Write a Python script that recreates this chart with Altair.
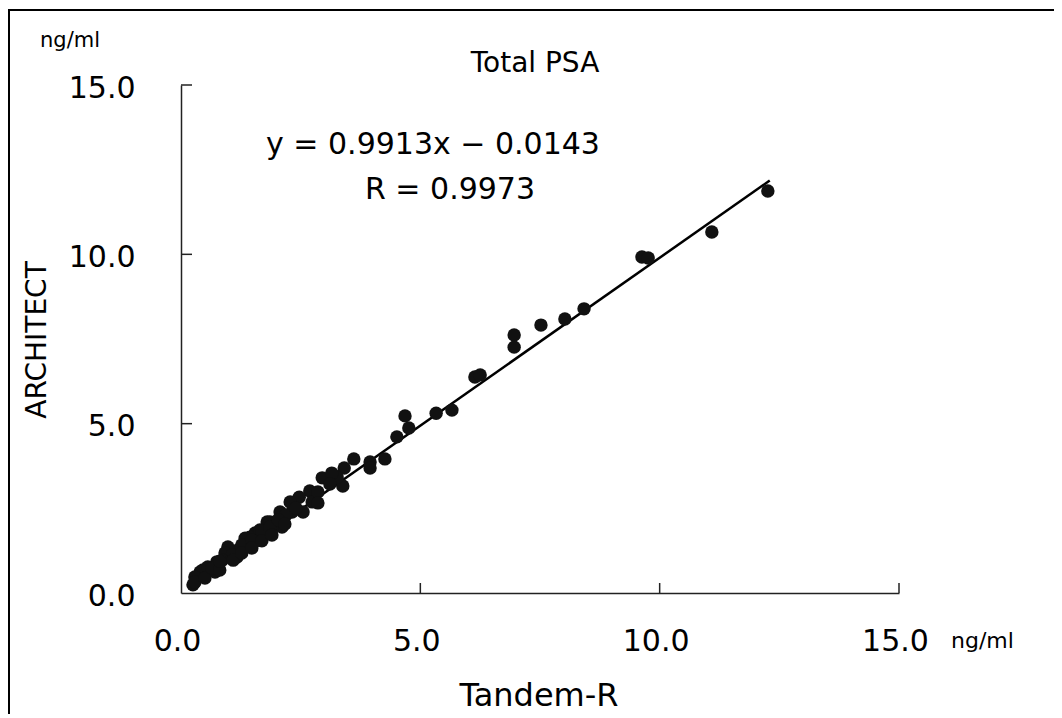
import altair as alt
import pandas as pd

# Tandem-R (x) vs ARCHITECT (y), ng/ml
tandem = [12.26, 11.09, 9.63, 9.76, 8.42, 8.02, 7.52, 6.96, 6.96, 6.14, 6.25, 5.66, 5.33,
          4.68, 4.76, 4.51, 4.26, 3.95, 3.95, 3.61, 3.41, 3.38, 3.18, 2.95, 3.26, 3.15,
          2.69, 2.74, 2.47, 2.55, 2.32, 2.28, 2.07, 2.11, 1.80, 1.71, 1.55, 1.44, 1.34,
          1.19, 1.17, 0.98, 0.92, 0.75, 0.71, 0.46, 0.40, 0.29, 0.25, 0.29, 1.38, 1.61,
          1.90, 1.07, 0.56, 1.34, 0.86, 1.65, 1.86, 2.19,
          0.50, 0.65, 0.81, 0.81, 1.09, 1.27, 1.27, 1.48, 1.48, 1.69, 1.69, 1.86, 1.90,
          2.03, 2.17, 2.40, 2.86, 2.86, 3.11]
architect = [11.87, 10.66, 9.92, 9.89, 8.39, 8.09, 7.91, 7.62, 7.26, 6.38, 6.44, 5.40, 5.31,
             5.23, 4.87, 4.61, 3.96, 3.87, 3.69, 3.96, 3.69, 3.16, 3.48, 3.40, 3.42, 3.54,
             3.01, 2.69, 2.83, 2.39, 2.39, 2.69, 2.39, 1.95, 2.10, 1.80, 1.77, 1.65, 1.62,
             1.27, 1.06, 1.36, 1.18, 0.92, 0.62, 0.68, 0.62, 0.47, 0.24, 0.32, 1.42, 1.56,
             1.92, 1.12, 0.77, 1.36, 0.97, 1.86, 2.10, 2.30,
             0.44, 0.74, 0.68, 0.94, 0.97, 1.42, 1.18, 1.56, 1.33, 1.83, 1.54, 1.95, 1.71,
             2.16, 2.04, 2.51, 2.98, 2.66, 3.22]

# regression line endpoints (y = 0.9913x - 0.0143)
fit_x = [0.25, 12.30]
fit_y = [0.233, 12.179]

tick_values = [0, 5, 10, 15]
inner_ticks = [5, 10, 15]

FONT = "DejaVu Sans"

pts = pd.DataFrame({"x": tandem, "y": architect})
fit = pd.DataFrame({"x": fit_x, "y": fit_y})
ticks = pd.DataFrame({"v": inner_ticks})
one = pd.DataFrame({"a": [0]})

xs = alt.Scale(domain=[0, 15], nice=False, zero=False)
ys = alt.Scale(domain=[0, 15], nice=False, zero=False)

xaxis = alt.Axis(values=tick_values, format=".1f", labelFontSize=30, labelPadding=33,
                 labelOffset=-4, labelFlush=False, ticks=False, grid=False, title=None,
                 domainColor="#222", domainWidth=1.5, labelColor="black", labelFont=FONT)
yaxis = alt.Axis(values=tick_values, format=".1f", labelFontSize=30, labelPadding=46,
                 labelOffset=3, labelFlush=False, ticks=False, grid=False, title=None,
                 domainColor="#222", domainWidth=1.5, labelColor="black", labelFont=FONT)

points = alt.Chart(pts).mark_circle(size=180, color="#111", opacity=1).encode(
    x=alt.X("x:Q", scale=xs, axis=xaxis),
    y=alt.Y("y:Q", scale=ys, axis=yaxis),
)

line = alt.Chart(fit).mark_line(color="black", strokeWidth=2.5).encode(
    x=alt.X("x:Q", scale=xs), y=alt.Y("y:Q", scale=ys)
)

xticks = alt.Chart(ticks).mark_rule(color="#222", strokeWidth=1.5).encode(
    x=alt.X("v:Q", scale=xs), y=alt.value(508), y2=alt.value(498)
)
yticks = alt.Chart(ticks).mark_rule(color="#222", strokeWidth=1.5).encode(
    y=alt.Y("v:Q", scale=ys), x=alt.value(0), x2=alt.value(11)
)


def label(text, x, y, size, align="center", angle=0, baseline="alphabetic"):
    kw = dict(text=text, fontSize=size, font=FONT, align=align, baseline=baseline, color="black")
    if angle:
        kw["angle"] = angle
    return alt.Chart(one).mark_text(**kw).encode(x=alt.value(x), y=alt.value(y))


texts = [
    label("ng/ml", -141, -38, 21, align="left"),
    label("Total PSA", 354, -13, 28),
    label("y  =  0.9913x  −  0.0143", 252, 69, 30),
    label("R = 0.9973", 269, 114, 30),
    label("ARCHITECT", -143, 255, 28, angle=270, baseline="middle"),
    label("Tandem-R", 358, 621, 32),
    label("ng/ml", 770, 563, 22, align="left"),
]

frame = alt.Chart(one).mark_rect(fillOpacity=0, stroke="black", strokeWidth=2).encode(
    x=alt.value(-172), x2=alt.value(1000), y=alt.value(-75), y2=alt.value(800)
)

chart = alt.layer(frame, line, points, xticks, yticks, *texts).properties(
    width=718, height=508,
    background="white",
    autosize=alt.AutoSizeParams(type="none"),
    padding={"left": 173, "top": 77, "right": 155, "bottom": 121},
).configure_view(stroke="transparent", strokeWidth=0)

chart.save("out.html", embed_options={"renderer": "svg", "actions": False})
